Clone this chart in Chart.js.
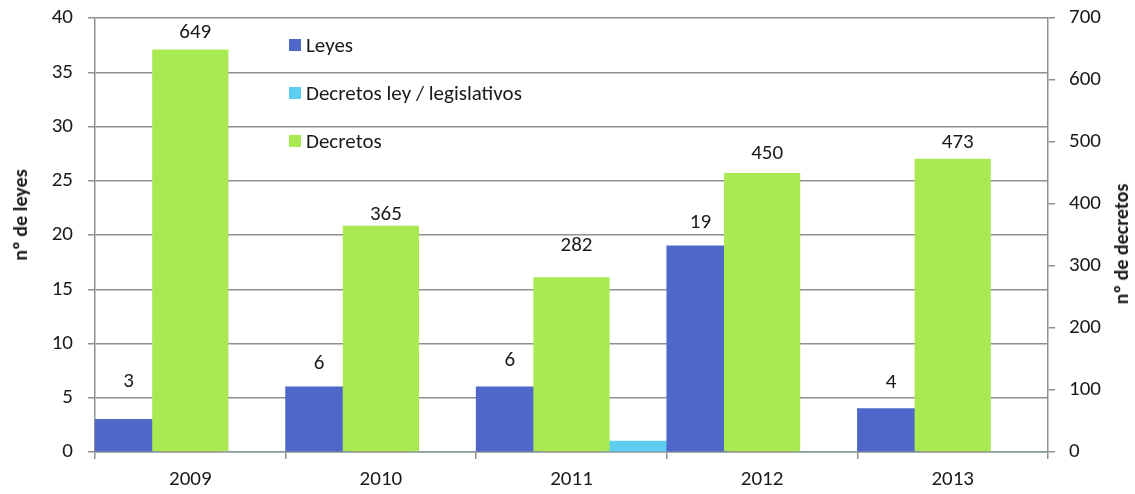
<!DOCTYPE html>
<html>
<head>
<meta charset="utf-8">
<script src="https://cdn.jsdelivr.net/npm/chart.js@4.4.0/dist/chart.umd.min.js"></script>
<style>
  html, body { margin: 0; padding: 0; background: #fff; }
  #wrap { position: relative; width: 1135px; height: 494px; font-family: 'Carlito', 'Open Sans', sans-serif; color: #1a1a1a; }
  .axis-title { position: absolute; font-weight: bold; font-size: 20px; white-space: nowrap; transform: translate(-50%, -50%) rotate(-90deg); }
  #legend { position: absolute; left: 289px; top: 33px; font-size: 21px; }
  .leg-item { display: flex; align-items: center; height: 24px; margin-bottom: 24px; }
  .leg-box { width: 12px; height: 12px; margin-right: 5px; }
</style>
</head>
<body>
<div id="wrap">
  <canvas id="chart"></canvas>
  <div class="axis-title" style="left:20px; top:215px;">nº de leyes</div>
  <div class="axis-title" style="left:1121px; top:244px;">nº de decretos</div>
  <div id="legend"></div>
</div>
<script>
// ── data ──
const categories  = ['2009', '2010', '2011', '2012', '2013'];
const leyes       = [3, 6, 6, 19, 4];
const decretosLey = [0, 0, 1, 0, 0];
const decretos    = [649, 365, 282, 450, 473];
const seriesNames = ['Leyes', 'Decretos ley / legislativos', 'Decretos'];

// ── style ──
const colLeyes = '#4F67C9';
const colDL    = '#5DCDF1';
const colDec   = '#A9EA52';
const gridCol  = '#8f8f8f';
const textCol  = '#1a1a1a';
const fontFam  = "'Carlito', 'Open Sans', sans-serif";
// value labels were hand-placed in the original, so the gap above each bar varies
const gapLeyes    = [38, 23, 26, 23, 26];
const gapDecretos = [17, 11, 31, 19, 16];
const labelShiftX = 5;

Chart.defaults.font.family = fontFam;
Chart.defaults.font.size = 21;
Chart.defaults.color = textCol;

// value labels above the bars
const barLabels = {
    id: 'barLabels',
    afterDatasetsDraw(chart) {
        const ctx = chart.ctx;
        const metaL = chart.getDatasetMeta(0);
        const metaD = chart.getDatasetMeta(3);
        ctx.save();
        ctx.font = '21px ' + fontFam;
        ctx.fillStyle = textCol;
        ctx.textAlign = 'center';
        ctx.textBaseline = 'middle';
        metaL.data.forEach((bar, i) => {
            if (!leyes[i]) return;
            // green bar covers the right part of the blue one
            const left = bar.x - bar.width / 2;
            const gLeft = metaD.data[i].x - metaD.data[i].width / 2;
            ctx.fillText(leyes[i], (left + gLeft) / 2 + labelShiftX, bar.y - gapLeyes[i]);
        });
        metaD.data.forEach((bar, i) => {
            ctx.fillText(decretos[i], bar.x + labelShiftX, bar.y - gapDecretos[i]);
        });
        ctx.restore();
    }
};

// fixed axis boxes so the plot area sits where the original one does
function fixWidth(w) {
    return s => { s.width = w; s.paddingTop = 0; s.paddingBottom = 0; };
}

const chart = new Chart(document.getElementById('chart'), {
    type: 'bar',
    data: {
        labels: categories,
        datasets: [
            { label: seriesNames[0], data: leyes, backgroundColor: colLeyes, yAxisID: 'y',
              categoryPercentage: 1, barPercentage: 1, order: 1 },
            { label: '', data: categories.map(() => null), yAxisID: 'y',
              categoryPercentage: 1, barPercentage: 1, order: 1 },
            { label: seriesNames[1], data: decretosLey, backgroundColor: colDL, yAxisID: 'y',
              categoryPercentage: 1, barPercentage: 1, order: 1 },
            { label: seriesNames[2], data: decretos, backgroundColor: colDec, yAxisID: 'y2',
              grouped: false, categoryPercentage: 0.4, barPercentage: 1, order: 0 }
        ]
    },
    options: {
        responsive: true,
        maintainAspectRatio: false,
        animation: false,
        layout: { padding: { top: 18, left: 0, right: 0, bottom: 0 } },
        scales: {
            x: {
                offset: true,
                grid: { offset: true, drawOnChartArea: false, drawTicks: true, tickLength: 7, color: gridCol, lineWidth: 1.5 },
                border: { display: true, color: gridCol, width: 1.5 },
                ticks: { padding: 8, maxRotation: 0 },
                afterFit(s) { s.height = 42; s.paddingLeft = 0; s.paddingRight = 0; }
            },
            y: {
                position: 'left',
                min: 0, max: 40,
                ticks: { stepSize: 5, padding: 15 },
                grid: { color: gridCol, lineWidth: 1.5, tickLength: 7 },
                border: { display: true, color: gridCol, width: 1.5 },
                afterFit: fixWidth(95)
            },
            y2: {
                position: 'right',
                min: 0, max: 700,
                ticks: { stepSize: 100, padding: 14 },
                grid: { drawOnChartArea: false, color: gridCol, lineWidth: 1.5, tickLength: 7 },
                border: { display: true, color: gridCol, width: 1.5 },
                afterFit: fixWidth(87)
            }
        },
        plugins: {
            legend: { display: false },
            tooltip: { enabled: false }
        }
    },
    plugins: [barLabels]
});

// legend, placed inside the plot like the original
const legendEl = document.getElementById('legend');
[[seriesNames[0], colLeyes], [seriesNames[1], colDL], [seriesNames[2], colDec]].forEach(([name, col]) => {
    const item = document.createElement('div');
    item.className = 'leg-item';
    item.innerHTML = `<span class="leg-box" style="background:${col}"></span><span>${name}</span>`;
    legendEl.appendChild(item);
});
</script>
</body>
</html>
